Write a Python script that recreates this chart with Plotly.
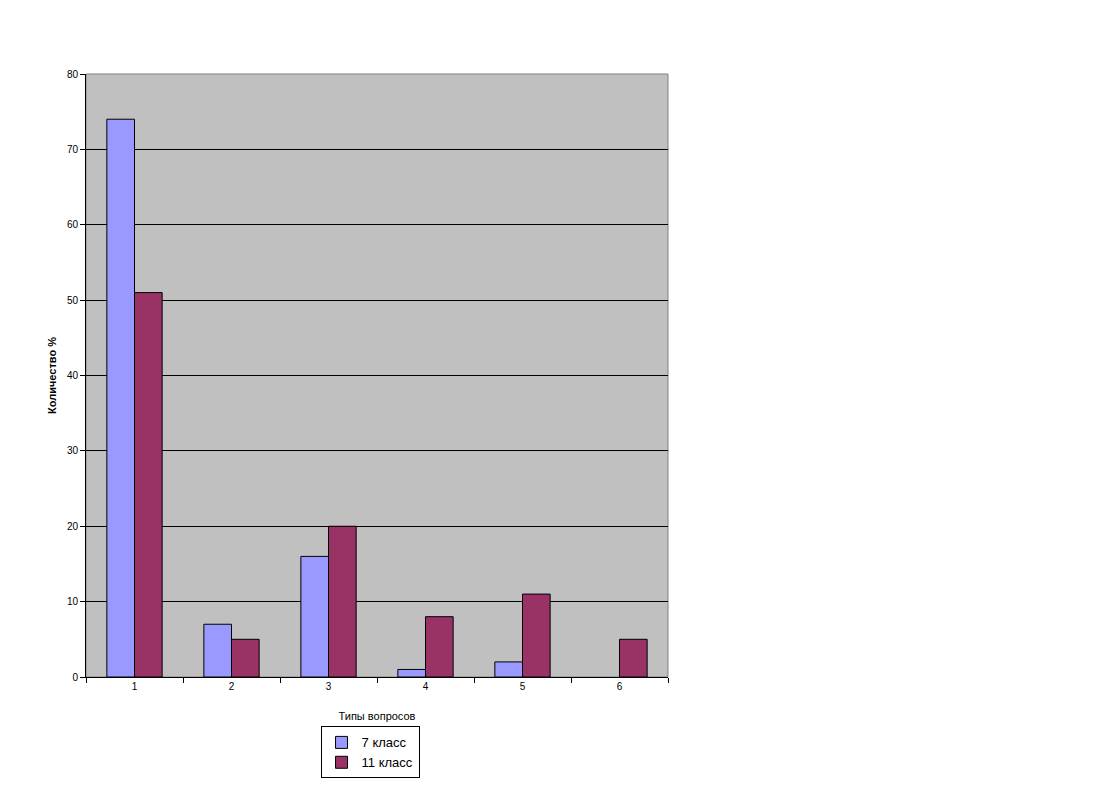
import plotly.graph_objects as go

# типы вопросов и проценты
categories = ["1", "2", "3", "4", "5", "6"]
grade7 = [74, 7, 16, 1, 2, 0]
grade11 = [51, 5, 20, 8, 11, 5]

fig = go.Figure()
fig.add_trace(go.Bar(x=categories, y=grade7, name="7 класс",
                     marker=dict(color="#9999FF",
                                 line=dict(color="black",
                                           width=[1 if v else 0 for v in grade7]))))
fig.add_trace(go.Bar(x=categories, y=grade11, name="11 класс",
                     marker=dict(color="#993366", line=dict(color="black", width=1))))

# серая рамка области построения
fig.add_shape(type="rect", xref="paper", yref="paper", x0=0, y0=0, x1=1, y1=1,
              line=dict(color="#808080", width=1), layer="below")

# страница имеет отступ 8px, поэтому поля уменьшены
fig.update_layout(
    width=1111, height=784,
    margin=dict(l=78, r=451, t=66, b=115),
    paper_bgcolor="white", plot_bgcolor="#C0C0C0",
    barmode="group", bargap=0.43, bargroupgap=0,
    font=dict(family="Liberation Sans, Arial, sans-serif", size=10, color="black"),
    showlegend=True,
    legend=dict(x=0.403, y=-0.082, xanchor="left", yanchor="top",
                bordercolor="black", borderwidth=1, bgcolor="white",
                font=dict(size=13), tracegroupgap=0, itemwidth=30),
)
fig.update_xaxes(
    type="category", tickson="boundaries", ticks="outside", ticklen=5,
    tickcolor="black", showline=True, linecolor="black", linewidth=1,
    showgrid=False, automargin=False,
    title=dict(text="Типы вопросов", font=dict(size=11), standoff=21),
)
fig.update_yaxes(
    range=[0, 80], dtick=10, ticks="outside", ticklen=5, tickcolor="black",
    showline=True, linecolor="black", linewidth=1, automargin=False,
    showgrid=True, gridcolor="black", gridwidth=1, zeroline=False,
    title=dict(text="<b>Количество %</b>", font=dict(size=11), standoff=8),
)

fig.write_html("out.html")
